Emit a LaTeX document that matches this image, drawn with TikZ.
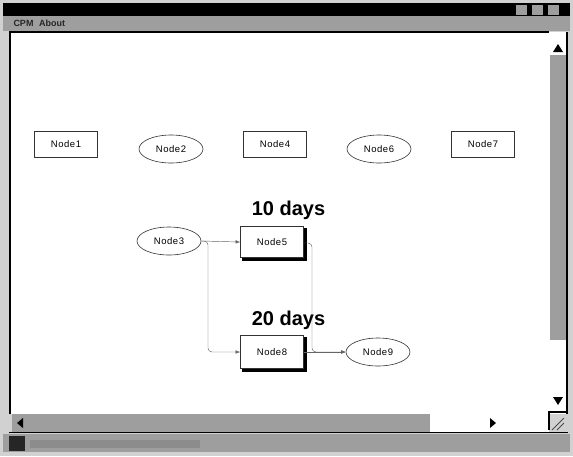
\documentclass[tikz,border=0pt]{standalone}
\usepackage{fontspec}
\setmainfont{Liberation Sans}
\newfontfamily\nodefont[LetterSpace=6]{Liberation Sans}
\usetikzlibrary{arrows.meta,shapes.geometric}
\definecolor{barGray}{gray}{0.62}
\definecolor{paleGray}{gray}{0.82}
\tikzset{
  taskbox/.style={draw=black!80, line width=0.6pt, minimum width=63pt, minimum height=26pt,
    inner sep=0pt, font=\nodefont\fontsize{9.5}{10}\selectfont},
  eventoval/.style={draw=black!80, line width=0.6pt, ellipse, minimum width=64pt, minimum height=28pt,
    inner sep=0pt, font=\nodefont\fontsize{9.5}{10}\selectfont},
  dur/.style={font=\bfseries\fontsize{20}{21}\selectfont, inner sep=0pt},
  edge/.style={draw=black!60, line width=0.45pt},
  tip/.style={-{Latex[length=4.5pt,width=3.5pt]}},
  menu/.style={font=\bfseries\fontsize{9}{10}\selectfont, text=black!85, inner sep=0pt}
}
\begin{document}
\begin{tikzpicture}[x=1pt,y=-1pt]
\useasboundingbox (0,0) rectangle (573,456);
% window frame
\fill[paleGray] (0,0) rectangle (573,456);
\fill[black] (3,3) rectangle (570,16);
\foreach \bx in {516,532,548}
  \fill[barGray] (\bx,5) rectangle ++(11,10);
% menu bar
\fill[barGray] (3,16) rectangle (570,31);
\node[menu] (mcpm) at (23.5,23.5) {CPM};
\node[menu] (mabout) at (52,23.5) {About};
% drawing canvas
\fill[white] (9,31) rectangle (549,414);
\draw[black, line width=1.6pt] (9.8,414) -- (9.8,31.8) -- (549,31.8);
% vertical scroll bar
\fill[white] (549,32) rectangle (568,414);
\fill[barGray] (550,55) rectangle (566,340);
\draw[black, line width=1.5pt] (567,32) -- (567,414);
\fill[black] (553,52) -- (563,52) -- (558,44) -- cycle;
\fill[black] (553,397) -- (563,397) -- (558,405) -- cycle;
% horizontal scroll bar
\fill[barGray] (12,414) rectangle (430,432);
\fill[white] (430,414) rectangle (549,432);
\draw[black, line width=1.2pt] (9,432.5) -- (568,432.5);
\fill[black] (17,423) -- (23,418) -- (23,428) -- cycle;
\fill[black] (490,418) -- (496,423) -- (490,428) -- cycle;
\draw[black, line width=1.6pt] (549,430) -- (549,412) -- (567,412);
\draw[black!70, line width=0.8pt] (552,430) -- (564,418) (557,430) -- (564,423);
% status bar
\fill[barGray] (3,434) rectangle (570,452);
\fill[black!85] (9,436) rectangle (25,451);
\fill[black!45] (30,440) rectangle (200,448);

% activity network
\node[taskbox] (n1) at (66,144) {Node1};
\node[eventoval] (n2) at (171,149) {Node2};
\node[taskbox] (n4) at (275,144) {Node4};
\node[eventoval] (n6) at (379,149) {Node6};
\node[taskbox] (n7) at (483,144) {Node7};

\node[eventoval] (n3) at (169,241) {Node3};
\node[taskbox, minimum height=31pt] (n5) at (272,242) {Node5};
\node[taskbox, minimum height=33pt] (n8) at (272,352) {Node8};
\node[eventoval] (n9) at (378,352) {Node9};

% drop shadows on critical tasks
\draw[black, line width=2.4pt] ([xshift=2pt,yshift=-1.5pt]n5.south west) -- ([xshift=1.5pt,yshift=-1.5pt]n5.south east) -- ([xshift=1.5pt,yshift=-2pt]n5.north east);
\draw[black, line width=2.4pt] ([xshift=2pt,yshift=-1.5pt]n8.south west) -- ([xshift=1.5pt,yshift=-1.5pt]n8.south east) -- ([xshift=1.5pt,yshift=-2pt]n8.north east);

% durations
\node[dur] (d10) at (288.5,210) {10 days};
\node[dur] (d20) at (288.5,320) {20 days};

% connectors
\coordinate (j1) at (208,241);
\coordinate (j2) at (312,243);
\draw[edge, tip] (n3.east) -- (n5.west);
\draw[edge, tip, rounded corners=4pt] (n3.east) -- (j1) |- (n8.west);
\draw[edge, tip, rounded corners=4pt] (n5.east |- j2) -- (j2) |- (n9.west);
\draw[edge, tip] (n8.east) -- (n9.west);
\end{tikzpicture}
\end{document}
